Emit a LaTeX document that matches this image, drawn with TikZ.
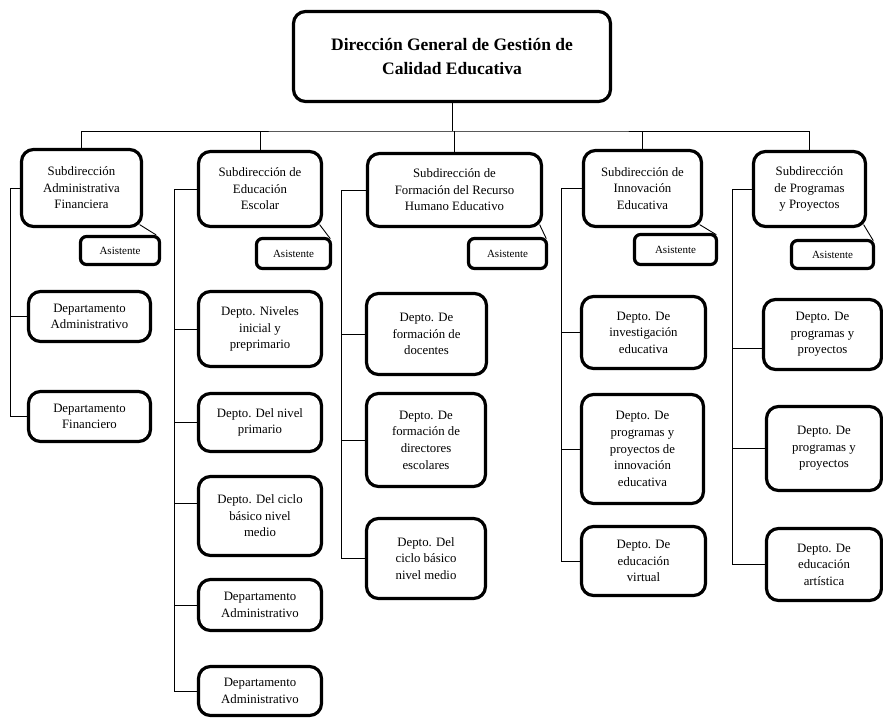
\documentclass[tikz,border=0pt]{standalone}
\usepackage{fontspec}
\setmainfont{Liberation Serif}
\usetikzlibrary{calc,positioning}

\begin{document}
\begin{tikzpicture}[%
    x=1pt, y=-1pt,%
    unitbox/.style={draw, line width=3.2pt, rounded corners=12pt, align=center, inner sep=0pt,%
      font=\fontsize{12.8}{16.6}\selectfont},%
    headbox/.style={unitbox, font=\bfseries\fontsize{17.5}{24}\selectfont},%
    helpbox/.style={draw, line width=3.2pt, rounded corners=6pt, align=center, inner sep=0pt,%
      font=\fontsize{11}{13}\selectfont},%
    wire/.style={line width=0.9pt}%
  ]
  \useasboundingbox (0,0) rectangle (883,718);%

  % Head
  \node[headbox, minimum width=317pt, minimum height=90pt] (Top) at (452,56.5) {Dirección General de Gestión de\\Calidad Educativa};%

  % Subdirecciones
  \node[unitbox, minimum width=120pt, minimum height=77pt] (S1) at (81.5,188) {Subdirección\\Administrativa\\Financiera};%
  \node[unitbox, minimum width=123pt, minimum height=75pt] (S2) at (260,189) {Subdirección de\\Educación\\Escolar};%
  \node[unitbox, minimum width=174pt, minimum height=73pt] (S3) at (454.5,190) {Subdirección de\\Formación del Recurso\\Humano Educativo};%
  \node[unitbox, minimum width=118pt, minimum height=76pt] (S4) at (642.5,188.5) {Subdirección de\\Innovación\\Educativa};%
  \node[unitbox, minimum width=112pt, minimum height=75pt] (S5) at (809.5,189) {Subdirección\\de Programas\\y Proyectos};%

  % Asistentes
  \node[helpbox, minimum width=79pt, minimum height=28pt] (A1) at (120,250.5) {Asistente};%
  \node[helpbox, minimum width=74pt, minimum height=30pt] (A2) at (293.5,253.5) {Asistente};%
  \node[helpbox, minimum width=78pt, minimum height=30pt] (A3) at (507.5,253.5) {Asistente};%
  \node[helpbox, minimum width=82pt, minimum height=30pt] (A4) at (675.5,249.5) {Asistente};%
  \node[helpbox, minimum width=82pt, minimum height=28pt] (A5) at (832.5,254.5) {Asistente};%

  % Departamentos
  \node[unitbox, minimum width=122pt, minimum height=50pt] (D1a) at (89.5,316.5) {Departamento\\Administrativo};%
  \node[unitbox, minimum width=122pt, minimum height=50pt] (D1b) at (89.5,416.5) {Departamento\\Financiero};%

  \node[unitbox, minimum width=123pt, minimum height=75pt] (D2a) at (260,329) {Depto. Niveles\\inicial y\\preprimario};%
  \node[unitbox, minimum width=123pt, minimum height=58pt] (D2b) at (260,422.5) {Depto. Del nivel\\primario};%
  \node[unitbox, minimum width=123pt, minimum height=79pt] (D2c) at (260,516) {Depto. Del ciclo\\básico nivel\\medio};%
  \node[unitbox, minimum width=123pt, minimum height=51pt] (D2d) at (260,605) {Departamento\\Administrativo};%
  \node[unitbox, minimum width=123pt, minimum height=49pt] (D2e) at (260,691) {Departamento\\Administrativo};%

  \node[unitbox, minimum width=120pt, minimum height=81pt] (D3a) at (426.5,334) {Depto. De\\formación de\\docentes};%
  \node[unitbox, minimum width=119pt, minimum height=93pt] (D3b) at (426,440) {Depto. De\\formación de\\directores\\escolares};%
  \node[unitbox, minimum width=119pt, minimum height=80pt] (D3c) at (426,558.5) {Depto. Del\\ciclo básico\\nivel medio};%

  \node[unitbox, minimum width=124pt, minimum height=72pt] (D4a) at (643.5,332.5) {Depto. De\\investigación\\educativa};%
  \node[unitbox, minimum width=122pt, minimum height=109pt] (D4b) at (642.5,449) {Depto. De\\programas y\\proyectos de\\innovación\\educativa};%
  \node[unitbox, minimum width=124pt, minimum height=69pt] (D4c) at (643.5,561) {Depto. De\\educación\\virtual};%

  \node[unitbox, minimum width=118pt, minimum height=70pt] (D5a) at (822.5,334.5) {Depto. De\\programas y\\proyectos};%
  \node[unitbox, minimum width=115pt, minimum height=84pt] (D5b) at (824,448.5) {Depto. De\\programas y\\proyectos};%
  \node[unitbox, minimum width=115pt, minimum height=72pt] (D5c) at (824,564.5) {Depto. De\\educación\\artística};%

  % Coordinates
  \coordinate (Hub) at (452,131);%
  \coordinate (L1) at ([xshift=-9.5pt]S1.west);%
  \coordinate (L2) at ([xshift=-22.5pt]S2.west);%
  \coordinate (L3) at ([xshift=-24.5pt]S3.west);%
  \coordinate (L4) at ([xshift=-20.5pt]S4.west);%
  \coordinate (L5) at ([xshift=-19.5pt]S5.west);%

  % Lines
  \draw[wire] (Top.south) -- (Hub);%
  \draw[wire] (S1.north) |- (Hub) -| (S5.north);%
  \draw[wire] (S2.north) -- (S2.north |- Hub);%
  \draw[wire] (S3.north) -- (S3.north |- Hub);%
  \draw[wire] (S4.north) -- (S4.north |- Hub);%

  % Asistentes
  \draw[wire] ([xshift=-3.5pt,yshift=3.5pt]S1.south east) -- ([xshift=-5pt]A1.north east);%
  \draw[wire] ([xshift=-3.5pt,yshift=3.5pt]S2.south east) -- ([xshift=-1.8pt,yshift=-1.8pt]A2.north east);%
  \draw[wire] ([xshift=-3.5pt,yshift=3.5pt]S3.south east) -- ([xshift=-1.8pt,yshift=-1.8pt]A3.north east);%
  \draw[wire] ([xshift=-3.5pt,yshift=3.5pt]S4.south east) -- ([xshift=-1.8pt,yshift=-1.8pt]A4.north east);%
  \draw[wire] ([xshift=-3.5pt,yshift=3.5pt]S5.south east) -- ([xshift=-1.8pt,yshift=-1.8pt]A5.north east);%

  % Departamentos
  \draw[wire] (S1.west) -- (L1) |- (D1b.west);%
  \draw[wire] (L1) |- (D1a.west);%

  \draw[wire] (S2.west) -- (L2) |- (D2e.west);%
  \draw[wire] (L2) |- (D2a.west);%
  \draw[wire] (L2) |- (D2b.west);%
  \draw[wire] (L2) |- ([yshift=13pt]D2c.west);%
  \draw[wire] (L2) |- (D2d.west);%

  \draw[wire] (S3.west) -- (L3) |- (D3c.west);%
  \draw[wire] (L3) |- (D3a.west);%
  \draw[wire] (L3) |- (D3b.west);%

  \draw[wire] (S4.west) -- (L4) |- (D4c.west);%
  \draw[wire] (L4) |- (D4a.west);%
  \draw[wire] (L4) |- (D4b.west);%

  \draw[wire] (S5.west) -- (L5) |- (D5c.west);%
  \draw[wire] (L5) |- ([yshift=-13.5pt]D5a.west);%
  \draw[wire] (L5) |- (D5b.west);%
\end{tikzpicture}
\end{document}
